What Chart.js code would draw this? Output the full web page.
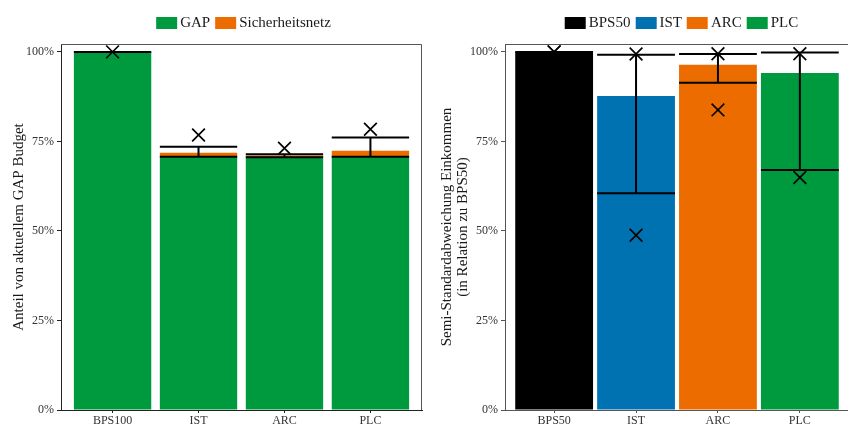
<!DOCTYPE html>
<html>
<head>
<meta charset="utf-8">
<script src="https://cdn.jsdelivr.net/npm/chart.js@4.4.1/dist/chart.umd.min.js"></script>
<style>
  html, body { margin: 0; padding: 0; background: #fff; width: 848px; height: 425px; overflow: hidden; }
  .panel { position: absolute; top: 0; height: 425px; }
  #leftPanel { left: 0; width: 430px; }
  #rightPanel { left: 430px; width: 419px; }
  .legend { position: absolute; top: 14px; display: flex; align-items: center; transform: translateX(-50%);
            font-family: 'Liberation Serif', serif; font-size: 15px; color: #1a1a1a; white-space: nowrap; z-index: 2; }
  .legend .item { display: flex; align-items: center; margin-right: 5px; }
  .legend .box { width: 21px; height: 12px; margin-right: 3px; }
</style>
</head>
<body>
<div class="panel" id="leftPanel"><canvas id="budgetChart" width="430" height="425"></canvas></div>
<div class="panel" id="rightPanel"><canvas id="riskChart" width="419" height="425"></canvas></div>
<div class="legend" id="budgetLegend" style="left:246px"></div>
<div class="legend" id="riskLegend" style="left:684px"></div>
<script>
// ---- data -------------------------------------------------------------
const yTickValues = [0, 25, 50, 75, 100];

// share of the current GAP budget
const budgetCategories = ['BPS100', 'IST', 'ARC', 'PLC'];
const gapShare        = [100, 70.7, 70.6, 70.7];
const safetyNetShare  = [0, 1.1, 0.5, 1.7];
const budgetLow       = [100, 70.7, 70.6, 70.7];
const budgetHigh      = [100, 73.5, 71.4, 76.1];
const budgetMarker    = [100, 76.8, 73.1, 78.4];

// semi standard deviation of income relative to BPS50
const riskCategories = ['BPS50', 'IST', 'ARC', 'PLC'];
const semiSd         = [100, 87.7, 96.4, 94.1];
const semiSdLow      = [100, 60.5, 91.4, 67.0];
const semiSdHigh     = [100, 99.2, 99.4, 99.8];
const semiSdMax      = [100, 99.4, 99.5, 99.5];
const semiSdMin      = [100, 48.8, 83.8, 64.9];

// ---- styling ----------------------------------------------------------
const FONT = 'Liberation Serif';
const GREEN = '#009a3e', ORANGE = '#ec6c00', BLUE = '#0072b2', BLACK = '#000000';
const riskColors = [BLACK, BLUE, ORANGE, GREEN];
const Y_MAX = 102.2;

// ---- helpers ----------------------------------------------------------
function errorBarPoints(low, high, half) {
  const pts = [];
  low.forEach((lo, i) => {
    const x = i + 1, hi = high[i];
    pts.push({x: x - half, y: hi}, {x: x + half, y: hi}, {x: x, y: null},
             {x: x, y: lo}, {x: x, y: hi}, {x: x, y: null},
             {x: x - half, y: lo}, {x: x + half, y: lo}, {x: x, y: null});
  });
  return pts;
}
const toPoints = arr => arr.map((v, i) => ({x: i + 1, y: v}));

function buildLegend(id, labels, colors) {
  const el = document.getElementById(id);
  labels.forEach((l, i) => {
    const item = document.createElement('span');
    item.className = 'item';
    const box = document.createElement('span');
    box.className = 'box';
    box.style.background = colors[i];
    const txt = document.createElement('span');
    txt.textContent = l;
    item.appendChild(box); item.appendChild(txt);
    el.appendChild(item);
  });
}

const panelFrame = color => ({
  id: 'panelFrame',
  afterDraw(chart) {
    const {ctx, chartArea: a} = chart;
    ctx.save();
    ctx.strokeStyle = color;
    ctx.lineWidth = 1;
    ctx.beginPath();
    const t = Math.round(a.top) + 0.5, r = Math.round(a.right) - 0.5;
    ctx.moveTo(a.left, t); ctx.lineTo(r, t); ctx.lineTo(r, a.bottom);
    ctx.stroke();
    ctx.restore();
  }
});

function xAxis(categories, axisColor) {
  return {
    type: 'linear', min: 0.4, max: 4.6, offset: false, stacked: true,
    afterBuildTicks: s => { s.ticks = categories.map((_, i) => ({value: i + 1})); },
    afterFit: s => { s.height = 15; s.paddingLeft = 0; s.paddingRight = 0; },
    ticks: { callback: (v, i) => categories[i], autoSkip: false, maxRotation: 0, padding: 1,
             color: '#333', font: {family: FONT, size: 12} },
    grid: { drawOnChartArea: false, drawTicks: true, tickLength: 3, offset: false, color: axisColor },
    border: { display: true, color: axisColor, width: 1 }
  };
}
function yAxis(width, title, titlePad, lineHeight, axisColor, stacked) {
  return {
    stacked: stacked, min: 0, max: Y_MAX,
    afterBuildTicks: s => { s.ticks = yTickValues.map(v => ({value: v})); },
    afterFit: s => { s.width = width; },
    ticks: { callback: v => v + '%', padding: 3, color: '#333', font: {family: FONT, size: 12} },
    grid: { drawOnChartArea: false, drawTicks: true, tickLength: 4, color: axisColor },
    border: { display: true, color: axisColor, width: 1 },
    title: { display: true, text: title, color: '#1a1a1a', padding: {top: titlePad, bottom: 0},
             font: {family: FONT, size: 15, lineHeight: lineHeight} }
  };
}
const markerDataset = (data, stack) => ({
  type: 'line', data: data, showLine: false, order: 0, stack: stack,
  pointStyle: 'crossRot', pointRadius: 9, pointHoverRadius: 9,
  pointBorderColor: '#000', pointBorderWidth: 1.7, pointBackgroundColor: 'transparent'
});
const errorDataset = (data, stack) => ({
  type: 'line', data: data, order: 1, stack: stack, spanGaps: false,
  borderColor: '#000', borderWidth: 2, pointRadius: 0, pointHoverRadius: 0, fill: false
});
const commonOptions = {
  responsive: false, animation: false, devicePixelRatio: 1,
  plugins: { legend: {display: false}, tooltip: {enabled: false} },
  events: []
};

// ---- left panel: budget shares -----------------------------------------
buildLegend('budgetLegend', ['GAP', 'Sicherheitsnetz'], [GREEN, ORANGE]);
new Chart(document.getElementById('budgetChart'), {
  type: 'bar',
  data: {
    datasets: [
      markerDataset(toPoints(budgetMarker), 'marker'),
      errorDataset(errorBarPoints(budgetLow, budgetHigh, 0.45), 'error'),
      { label: 'GAP', data: toPoints(gapShare), backgroundColor: GREEN, order: 2,
        barPercentage: 0.9, categoryPercentage: 1.0, borderWidth: 0 },
      { label: 'Sicherheitsnetz', data: toPoints(safetyNetShare), backgroundColor: ORANGE, order: 3,
        barPercentage: 0.9, categoryPercentage: 1.0, borderWidth: 0 }
    ]
  },
  options: Object.assign({}, commonOptions, {
    layout: { autoPadding: false, padding: {top: 44, right: 8, left: 0, bottom: 0} },
    scales: {
      x: xAxis(budgetCategories, '#222'),
      y: yAxis(61, 'Anteil von aktuellem GAP Budget', 10, 1.2, '#222', true)
    }
  }),
  plugins: [panelFrame('#555')]
});

// ---- right panel: semi standard deviation ------------------------------
buildLegend('riskLegend', riskCategories, riskColors);
new Chart(document.getElementById('riskChart'), {
  type: 'bar',
  data: {
    datasets: [
      markerDataset(toPoints(semiSdMax), 'max'),
      markerDataset(toPoints(semiSdMin), 'min'),
      errorDataset(errorBarPoints(semiSdLow, semiSdHigh, 0.475), 'error'),
      { label: 'Semi-SD', data: toPoints(semiSd), backgroundColor: riskColors, order: 2,
        barPercentage: 0.95, categoryPercentage: 1.0, borderWidth: 0 }
    ]
  },
  options: Object.assign({}, commonOptions, {
    layout: { autoPadding: false, padding: {top: 44, right: 0, left: 0, bottom: 0} },
    scales: {
      x: xAxis(riskCategories, '#555'),
      y: yAxis(75, ['Semi-Standardabweichung Einkommen', '(in Relation zu BPS50)'], 9, 1.07, '#555', false)
    }
  }),
  plugins: [panelFrame('#555')]
});
</script>
</body>
</html>
